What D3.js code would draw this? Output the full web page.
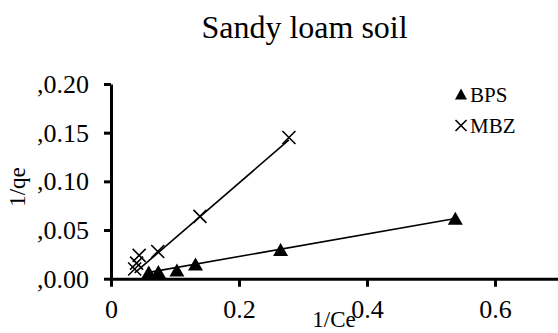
<!DOCTYPE html>
<html>
<head>
<meta charset="utf-8">
<script src="https://cdn.jsdelivr.net/npm/d3@7"></script>
<style>
  html, body { margin: 0; padding: 0; background: #fff; }
  svg text { font-family: "Liberation Serif", "Times New Roman", Times, serif; fill: #000; }
</style>
</head>
<body>
<svg id="chart" width="558" height="333"></svg>
<script>
// Langmuir linearisation, sandy loam soil: 1/qe against 1/Ce
const bpsX = [0.059, 0.074, 0.103, 0.132, 0.265, 0.538];
const bpsY = [0.007, 0.0075, 0.009, 0.015, 0.030, 0.062];
const mbzX = [0.037, 0.040, 0.044, 0.073, 0.139, 0.278];
const mbzY = [0.010, 0.016, 0.024, 0.028, 0.064, 0.145];

// fitted trend lines: [slope, intercept]
const bpsFit = [0.1155, -0.0003];
const mbzFit = [0.567, -0.0151];

const xTicks = [0, 0.2, 0.4, 0.6];
const yTicks = [0, 0.05, 0.10, 0.15, 0.20];
const seriesNames = ["BPS", "MBZ"];

const svg = d3.select("#chart");

const x = d3.scaleLinear().domain([0, 0.7]).range([111, 559]);
const y = d3.scaleLinear().domain([0, 0.2]).range([278.7, 84]);

// title
svg.append("text")
  .attr("x", 304.5).attr("y", 38)
  .attr("text-anchor", "middle")
  .attr("font-size", 32)
  .text("Sandy loam soil");

// axes
const yAxis = d3.axisLeft(y)
  .tickValues(yTicks)
  .tickSize(7)
  .tickSizeOuter(0)
  .tickPadding(15)
  .tickFormat(d => "," + d3.format(".2f")(d));

const xAxis = d3.axisBottom(x)
  .tickValues(xTicks)
  .tickSize(8)
  .tickSizeOuter(0)
  .tickPadding(13)
  .tickFormat(d => d === 0 ? "0" : d3.format(".1f")(d));

const gy = svg.append("g").attr("transform", `translate(${x(0)},0)`).call(yAxis);
const gx = svg.append("g").attr("transform", `translate(0,${y(0)})`).call(xAxis);

[gx, gy].forEach(g => {
  g.selectAll("path, line").attr("stroke", "#000").attr("stroke-width", 3);
  g.selectAll("text").attr("font-size", 26);
});

// axis titles
svg.append("text")
  .attr("x", 334).attr("y", 327)
  .attr("text-anchor", "middle")
  .attr("font-size", 23)
  .text("1/Ce");

svg.append("text")
  .attr("transform", "translate(25,187) rotate(-90)")
  .attr("text-anchor", "middle")
  .attr("font-size", 23)
  .text("1/qe");

// trend lines
function trend(xs, fit) {
  const x0 = d3.min(xs), x1 = d3.max(xs);
  svg.append("line")
    .attr("x1", x(x0)).attr("y1", y(fit[0] * x0 + fit[1]))
    .attr("x2", x(x1)).attr("y2", y(fit[0] * x1 + fit[1]))
    .attr("stroke", "#000").attr("stroke-width", 1.6);
}
trend(bpsX, bpsFit);
trend(mbzX, mbzFit);

// marker shapes
const triPath = (w, h) => `M0,${-h / 2}L${w / 2},${h / 2}L${-w / 2},${h / 2}Z`;
const crossPath = s => `M${-s},${-s}L${s},${s}M${-s},${s}L${s},${-s}`;

svg.append("g").selectAll("path")
  .data(d3.zip(bpsX, bpsY))
  .join("path")
  .attr("transform", d => `translate(${x(d[0])},${y(d[1])})`)
  .attr("d", triPath(15, 13))
  .attr("fill", "#000");

svg.append("g").selectAll("path")
  .data(d3.zip(mbzX, mbzY))
  .join("path")
  .attr("transform", d => `translate(${x(d[0])},${y(d[1])})`)
  .attr("d", crossPath(6.5))
  .attr("fill", "none")
  .attr("stroke", "#000")
  .attr("stroke-width", 1.6);

// legend
const legend = svg.append("g").attr("transform", "translate(461,94)");
legend.append("path").attr("d", triPath(12, 11)).attr("fill", "#000");
legend.append("text").attr("x", 9).attr("y", 8).attr("font-size", 21).text(seriesNames[0]);
const leg2 = svg.append("g").attr("transform", "translate(461,125.5)");
leg2.append("path").attr("d", crossPath(5.5)).attr("fill", "none")
  .attr("stroke", "#000").attr("stroke-width", 1.6);
leg2.append("text").attr("x", 9).attr("y", 7.5).attr("font-size", 21).text(seriesNames[1]);
</script>
</body>
</html>
